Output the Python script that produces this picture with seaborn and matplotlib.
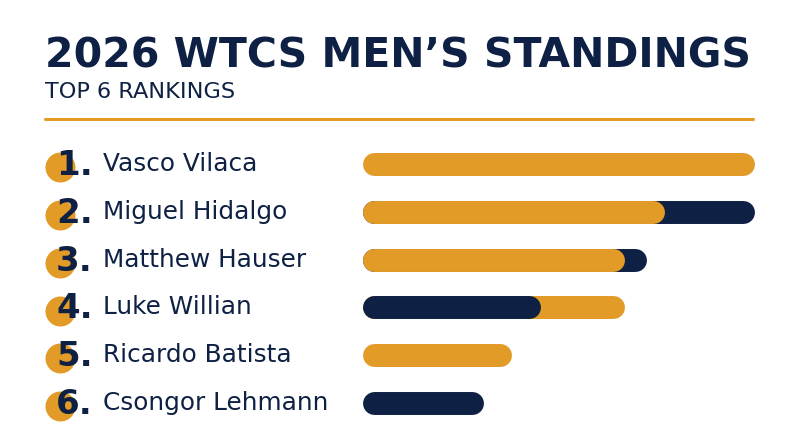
import matplotlib
matplotlib.use("Agg")
import matplotlib.pyplot as plt
import matplotlib.transforms as mtransforms
from matplotlib.lines import Line2D
import seaborn as sns
import pandas as pd

GOLD = "#E39B28"
NAVY = "#0E2144"

title = "2026 WTCS MEN’S STANDINGS"
subtitle = "TOP 6 RANKINGS"
ranks = ["1.", "2.", "3.", "4.", "5.", "6."]
names = ["Vasco Vilaca", "Miguel Hidalgo", "Matthew Hauser",
         "Luke Willian", "Ricardo Batista", "Csongor Lehmann"]
# full bar length and the overlaid front segment (0 = none)
total = [100, 100, 72.6, 66.8, 38.1, 30.9]
front = [0, 77.2, 67.0, 45.5, 0, 0]
back_colors = [GOLD, NAVY, NAVY, GOLD, GOLD, NAVY]
front_colors = [GOLD, GOLD, GOLD, NAVY, GOLD, GOLD]

W, H = 800, 447
sns.set_theme(style="white")
plt.rcParams["font.family"] = ["DejaVu Sans"]

fig = plt.figure(figsize=(W / 100, H / 100), dpi=100)
fig.patch.set_facecolor("white")
ax = fig.add_axes([363 / W, 20 / H, 391 / W, 287 / H])

df = pd.DataFrame({"name": names, "total": total, "front": front})
sns.barplot(data=df, x="total", y="name", hue="name", orient="h",
            palette=dict(zip(names, back_colors)), width=0.48,
            legend=False, ax=ax, saturation=1)
sns.barplot(data=df, x="front", y="name", hue="name", orient="h",
            palette=dict(zip(names, front_colors)), width=0.48,
            legend=False, ax=ax, saturation=1)
ax.set_xlim(0, 100)
ax.set_ylim(len(names) - 0.5, -0.5)
ax.axis("off")

# swap the square bars for pill shapes (thick lines with round caps)
pos = ax.get_position()
px_x = pos.width * W / 100
px_y = pos.height * H / len(names)
for z, p in enumerate(list(ax.patches)):
    x, y, w, h = p.get_x(), p.get_y(), p.get_width(), abs(p.get_height())
    fc = p.get_facecolor()
    yc = p.get_y() + p.get_height() / 2
    p.remove()
    if w <= 0:
        continue
    h_px = h * px_y
    rx = (h_px / 2) / px_x
    ax.plot([x + rx, x + w - rx], [yc, yc], color=fc, lw=h_px * 0.72,
            solid_capstyle="round", zorder=2 + z * 0.01, clip_on=False)

trans = mtransforms.blended_transform_factory(fig.transFigure, ax.transData)
name_texts = []
for i, (r, n) in enumerate(zip(ranks, names)):
    ax.plot([60 / W], [i + 0.065], "o", ms=21.6, color=GOLD, mec="none",
            transform=trans, clip_on=False, zorder=1)
    ax.text(56 / W, i + 0.03, r, transform=trans, ha="left", va="center",
            fontsize=24.5, fontweight="bold", color=NAVY, zorder=3)
    name_texts.append(ax.text(103 / W, i, n, transform=trans, ha="left",
                              va="center", fontsize=16, color=NAVY,
                              zorder=3))

t1 = fig.text(45 / W, 1 - 67 / H, title, ha="left", va="baseline",
              fontsize=30, fontweight="bold", color=NAVY)
t2 = fig.text(45 / W, 1 - 98 / H, subtitle, ha="left", va="baseline",
              fontsize=14, color=NAVY)
fig.add_artist(Line2D([45 / W, 753 / W], [1 - 119 / H] * 2,
                      color=GOLD, lw=2.2))

# fit text widths to the reference
fig.canvas.draw()
rend = fig.canvas.get_renderer()
for t, target in [(t1, 707), (t2, 190)]:
    bw = t.get_window_extent(rend).width
    t.set_fontsize(t.get_fontsize() * target / bw)
k = 154 / name_texts[0].get_window_extent(rend).width
for t in name_texts:
    t.set_fontsize(t.get_fontsize() * k)

fig.savefig("out.png", dpi=100)
